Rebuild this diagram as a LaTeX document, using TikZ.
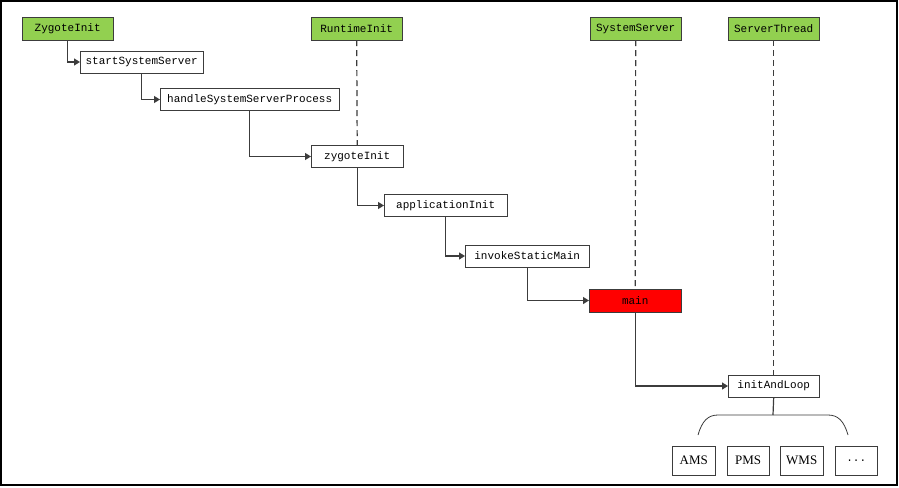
\documentclass[tikz,border=0pt]{standalone}
\usepackage{fontspec}
\setmonofont{Liberation Mono}
\newfontfamily\svcfont{Liberation Serif}
\usetikzlibrary{arrows.meta,positioning}
\definecolor{classgreen}{RGB}{146,208,80}
\definecolor{linegray}{RGB}{60,60,60}

\begin{document}
\begin{tikzpicture}[x=1pt,y=-1pt,
    font=\ttfamily\fontsize{11}{13}\selectfont,
    class/.style={draw=linegray,fill=classgreen,minimum width=91pt,minimum height=23pt,inner sep=0pt,anchor=west},
    call/.style={draw=linegray,fill=white,minimum height=22pt,inner sep=0pt,anchor=west},
    svc/.style={draw=linegray,fill=white,minimum width=43pt,minimum height=29pt,inner sep=0pt,anchor=west,font=\svcfont\fontsize{13}{15}\selectfont},
    flow/.style={draw=linegray,line width=1.2pt,-{Triangle[length=6pt,width=7pt]}},
    life/.style={draw=linegray,line width=1.2pt,dash pattern=on 6pt off 4pt}]
  \useasboundingbox (0,0) rectangle (899,487);
  \draw[line width=1.5pt] (1,1) rectangle (897,485);

  % classes
  \node[class] (zinit) at (22,28.5) {ZygoteInit};
  \node[class] (rinit) at (311,28.5) {RuntimeInit};
  \node[class] (sserver) at (590,28.5) {SystemServer};
  \node[class] (sthread) at (728,28.5) {ServerThread};

  % calls
  \node[call,minimum width=123pt] (start) at (80,62) {startSystemServer};
  \node[call,minimum width=179pt] (handle) at (160,99.5) {handleSystemServerProcess};
  \node[call,minimum width=92pt] (zygote) at (311,156.5) {zygoteInit};
  \node[call,minimum width=123pt] (appinit) at (384,205.5) {applicationInit};
  \node[call,minimum width=124pt] (invoke) at (465,256) {invokeStaticMain};
  \node[call,minimum width=92pt,minimum height=23pt,fill=red] (main) at (589,300.5) {main};
  \node[call,minimum width=91pt] (loop) at (728,386) {initAndLoop};

  % services
  \node[svc] (ams) at (672,460.5) {AMS};
  \node[svc,minimum width=42pt] (pms) at (727,460.5) {PMS};
  \node[svc] (wms) at (780,460.5) {WMS};
  \node[svc,minimum width=42pt,font=\ttfamily\fontsize{11}{13}\selectfont] (more) at (835,460.5) {...};

  % lifelines
  \draw[life] (rinit.south) -- (zygote.north);
  \draw[life] (sserver.south) -- (main.north);
  \draw[life] (sthread.south) -- (loop.north);

  % calls flow
  \draw[flow] (zinit.south) |- (start.west);
  \draw[flow] (start.south) |- (handle.west);
  \draw[flow] (handle.south) |- (zygote.west);
  \draw[flow] (zygote.south) |- (appinit.west);
  \draw[flow] (appinit.south) |- (invoke.west);
  \draw[flow] (invoke.south) |- (main.west);
  \draw[flow] (main.south) |- (loop.west);

  % fan out to services
  \coordinate (top) at (773,415);
  \coordinate (lefttip) at (698,435);
  \coordinate (righttip) at (848,435);
  \draw[linegray,line width=1.2pt] (loop.south) -- (top);
  \draw[linegray,line width=0.8pt] (lefttip) .. controls (702,421) and (708,415) .. (718,415)
    -- (828,415) .. controls (838,415) and (844,421) .. (righttip);
\end{tikzpicture}
\end{document}
